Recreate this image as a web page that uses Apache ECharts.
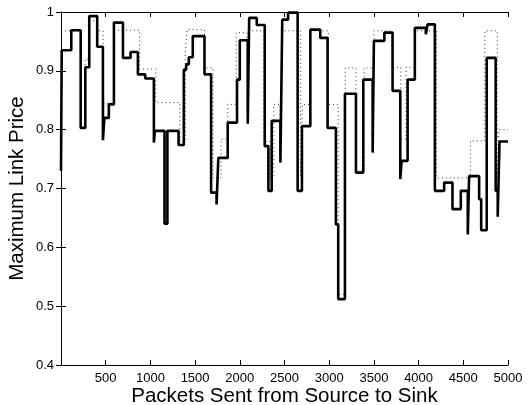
<!DOCTYPE html>
<html>
<head>
<meta charset="utf-8">
<script src="https://cdn.jsdelivr.net/npm/echarts@6/dist/echarts.min.js"></script>
<style>
  html, body { margin: 0; padding: 0; background: #fff; }
  #chart { width: 528px; height: 405px; }
</style>
</head>
<body>
<div id="chart"></div>
<script>
// solid line: step start (packets) and price held from there
const solidX = [0, 8, 115, 220, 272, 316, 405, 469, 485, 535, 592, 693, 778, 860, 942,
  1039, 1050, 1158, 1190, 1315, 1374, 1400, 1430, 1474, 1605, 1679, 1740, 1760, 1865, 1969,
  2000, 2089, 2105, 2190, 2279, 2320, 2357, 2454, 2475, 2540, 2647, 2695, 2789, 2900, 2982,
  3075, 3101, 3176, 3299, 3381, 3486, 3500, 3617, 3709, 3795, 3810, 3877, 3958, 4081, 4100,
  4182, 4286, 4379, 4472, 4550, 4565, 4677, 4700, 4762, 4862, 4885, 4905, 5000]
const solidY = [0.73, 0.935, 0.969, 0.803, 0.906, 0.993, 0.941, 0.782, 0.82, 0.843, 0.982, 0.922, 0.932, 0.894, 0.887,
  0.778, 0.798, 0.64, 0.798, 0.774, 0.902, 0.911, 0.923, 0.959, 0.894, 0.693, 0.673, 0.752, 0.812, 0.885,
  0.952, 0.81, 0.99, 0.978, 0.772, 0.696, 0.815, 0.744, 0.987, 0.999, 0.696, 0.806, 0.97, 0.956, 0.803,
  0.639, 0.512, 0.861, 0.727, 0.885, 0.761, 0.951, 0.965, 0.866, 0.716, 0.747, 0.885, 0.973, 0.962, 0.979,
  0.696, 0.71, 0.665, 0.696, 0.622, 0.721, 0.682, 0.629, 0.922, 0.696, 0.652, 0.78, 0.78]

// dotted line
const dotX = [0, 225, 270, 320, 400, 470, 480, 590, 880, 1060, 1330, 1390, 1410, 1605, 1700,
  1790, 1865, 1960, 2080, 2100, 2270, 2340, 2380, 2450, 2470, 2680, 2700, 2780, 2990, 3100,
  3180, 3300, 3390, 3500, 3700, 3800, 3860, 3960, 4200, 4580, 4740, 4880, 4900, 5000]
const dotY = [0.968, 0.81, 0.92, 0.985, 0.968, 0.79, 0.845, 0.969, 0.903, 0.846, 0.78, 0.93, 0.97, 0.905, 0.718,
  0.784, 0.843, 0.965, 0.83, 0.968, 0.78, 0.72, 0.843, 0.76, 0.968, 0.72, 0.843, 0.968, 0.843, 0.52,
  0.905, 0.73, 0.905, 0.968, 0.906, 0.784, 0.906, 0.968, 0.718, 0.781, 0.968, 0.72, 0.8, 0.8]

const xTickStep = 500
const yTicks = [0.4, 0.5, 0.6, 0.7, 0.8, 0.9, 1]

const font = 'Liberation Sans, Arial, sans-serif'
const chart = echarts.init(document.getElementById('chart'))

const frame = {
  axisLine: { show: true, lineStyle: { color: '#000', width: 1 } },
  axisTick: { show: true, inside: true, length: 5, lineStyle: { color: '#000' } },
  splitLine: { show: false }
}

chart.setOption({
  animation: false,
  grid: { left: 61, right: 20, top: 12, bottom: 40, outerBoundsMode: 'none' },
  xAxis: [
    Object.assign({
      type: 'value', min: 0, max: 5000, interval: xTickStep,
      name: 'Packets Sent from Source to Sink', nameLocation: 'middle', nameGap: 21,
      nameMoveOverlap: false,
      nameTextStyle: { fontFamily: font, fontSize: 20.5, color: '#000' },
      axisLabel: {
        fontFamily: font, fontSize: 13, color: '#000', margin: 7,
        formatter: v => (v === 0 ? '' : String(v))
      }
    }, frame),
    Object.assign({
      type: 'value', min: 0, max: 5000, interval: xTickStep, position: 'top',
      axisLabel: { show: false }
    }, frame)
  ],
  yAxis: [
    Object.assign({
      type: 'value', min: yTicks[0], max: yTicks[yTicks.length - 1], interval: 0.1,
      name: 'Maximum Link Price', nameLocation: 'middle', nameGap: 33,
      nameMoveOverlap: false,
      nameTextStyle: { fontFamily: font, fontSize: 20.5, color: '#000' },
      axisLabel: {
        fontFamily: font, fontSize: 13, color: '#000', margin: 7,
        formatter: v => (Math.abs(v - 1) < 1e-9 ? '1' : v.toFixed(1))
      }
    }, frame),
    Object.assign({
      type: 'value', min: yTicks[0], max: yTicks[yTicks.length - 1], interval: 0.1, position: 'right',
      axisLabel: { show: false }
    }, frame)
  ],
  series: [
    {
      type: 'line', step: 'end', symbol: 'none',
      data: dotX.map((x, i) => [x, dotY[i]]),
      lineStyle: { color: '#333', width: 1, type: [1, 3] },
      z: 2
    },
    {
      type: 'line', step: 'end', symbol: 'none',
      data: solidX.map((x, i) => [x, solidY[i]]),
      lineStyle: { color: '#000', width: 2.6 },
      z: 3
    }
  ]
})
</script>
</body>
</html>
